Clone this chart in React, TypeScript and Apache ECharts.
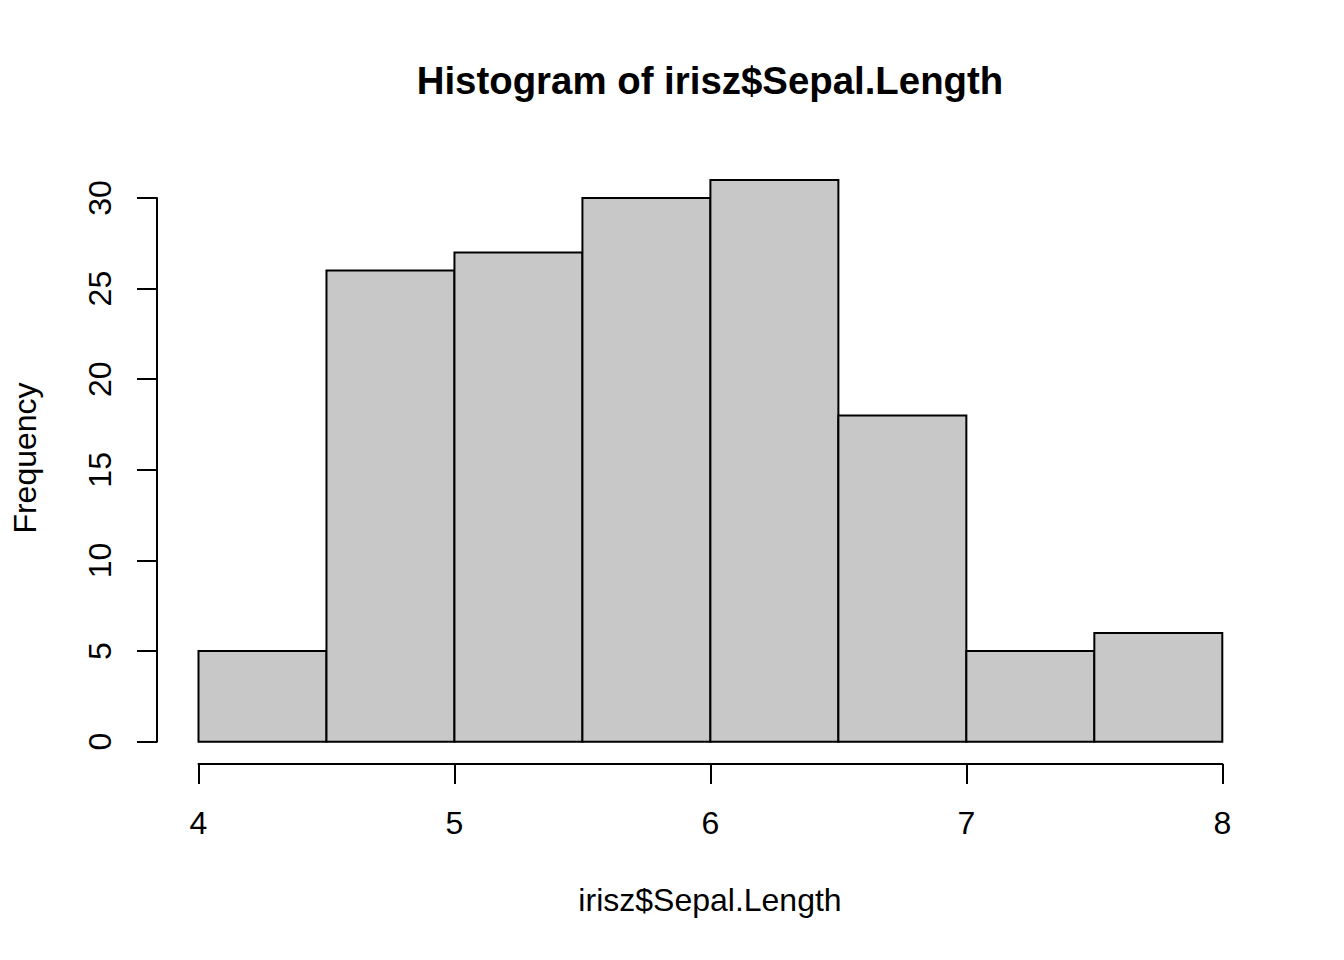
import React, { useEffect, useRef } from "react";
import * as echarts from "echarts";

const titleText = "Histogram of irisz$Sepal.Length";
const xLabel = "irisz$Sepal.Length";
const yLabel = "Frequency";
const binEdges = [4, 4.5, 5, 5.5, 6, 6.5, 7, 7.5, 8];
const counts = [5, 26, 27, 30, 31, 18, 5, 6];
const xTickMin = 4;
const xTickMax = 8;
const xTickStep = 1;
const yTickMin = 0;
const yTickMax = 30;
const yTickStep = 5;

const FONT = "'Liberation Sans', Arial, Helvetica, sans-serif";

export default function App() {
  const ref = useRef<HTMLDivElement>(null);
  useEffect(() => {
    if (!ref.current) return;
    const chart = echarts.init(ref.current, null, { renderer: "svg" });
    const data = counts.map((c, i) => [binEdges[i], binEdges[i + 1], c]);
    const axisLine = { show: true, onZero: false, lineStyle: { color: "#000", width: 2 } };
    const axisTick = { show: true, inside: false, length: 20, lineStyle: { color: "#000", width: 2 } };
    chart.setOption({
      animation: false,
      backgroundColor: "#ffffff",
      textStyle: { fontFamily: FONT },
      grid: [
        { left: 198.5, right: 121.7, top: 180, bottom: 218.3 },
        { left: 157, width: 10, top: 198, bottom: 218.3 },
      ],
      xAxis: [
        {
          type: "value",
          gridIndex: 0,
          min: xTickMin,
          max: xTickMax,
          interval: xTickStep,
          position: "bottom",
          offset: 22.3,
          axisLine,
          axisTick,
          splitLine: { show: false },
          axisLabel: { color: "#000", fontSize: 32, fontFamily: FONT, margin: 43 },
        },
        { type: "value", gridIndex: 1, show: false, min: 0, max: 1 },
      ],
      yAxis: [
        { type: "value", gridIndex: 0, show: false, min: 0, max: 31 },
        {
          type: "value",
          gridIndex: 1,
          min: yTickMin,
          max: yTickMax,
          interval: yTickStep,
          position: "left",
          axisLine,
          axisTick,
          splitLine: { show: false },
          axisLabel: { color: "#000", fontSize: 32, fontFamily: FONT, margin: 41, rotate: 90 },
        },
      ],
      series: [
        {
          type: "custom",
          xAxisIndex: 0,
          yAxisIndex: 0,
          clip: false,
          data,
          encode: { x: [0, 1], y: 2 },
          renderItem: (params: any, api: any) => {
            const p0 = api.coord([api.value(0), api.value(2)]);
            const p1 = api.coord([api.value(1), 0]);
            return {
              type: "rect",
              shape: { x: p0[0], y: p0[1], width: p1[0] - p0[0], height: p1[1] - p0[1] },
              style: { fill: "#C8C8C8", stroke: "#000", lineWidth: 2 },
            };
          },
        },
      ],
      graphic: [
        {
          type: "text",
          x: 710,
          y: 80,
          style: {
            text: titleText,
            fill: "#000",
            font: `bold 38.4px ${FONT}`,
            textAlign: "center",
            textVerticalAlign: "middle",
          },
        },
        {
          type: "text",
          x: 710,
          y: 900,
          style: {
            text: xLabel,
            fill: "#000",
            font: `32px ${FONT}`,
            textAlign: "center",
            textVerticalAlign: "middle",
          },
        },
        {
          type: "text",
          x: 25,
          y: 458,
          rotation: Math.PI / 2,
          style: {
            text: yLabel,
            fill: "#000",
            font: `32px ${FONT}`,
            textAlign: "center",
            textVerticalAlign: "middle",
          },
        },
      ],
    });
    return () => chart.dispose();
  }, []);
  return (
    <div
      ref={ref}
      style={{ position: "absolute", left: 0, top: 0, width: 1344, height: 960, background: "#fff" }}
    />
  );
}
